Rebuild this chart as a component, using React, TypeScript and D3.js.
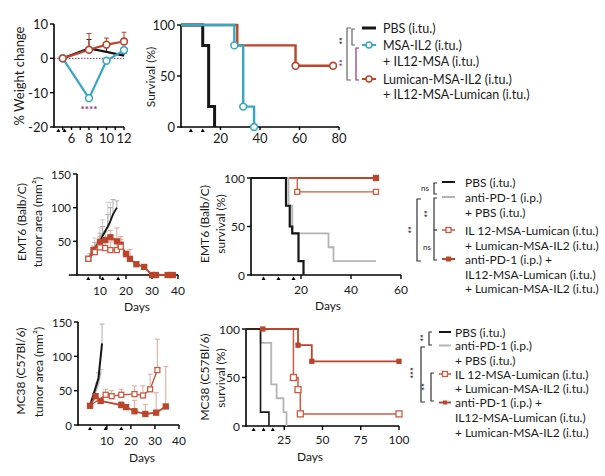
import React from "react";
import * as d3 from "d3";

const FONT = "Lato, 'Open Sans', sans-serif";

// colours
const C_BLACK = "#161616";
const C_CYAN = "#37a8c2";
const C_RED = "#bb442b";
const C_RED2 = "#cc5940";
const C_RED_ERR = "#e4a696";
const C_GREY = "#b4b4b4";
const C_GREY_ERR = "#aeaeae";
const C_PURPLE = "#8c2f7c";

// ---------- Panel A: % weight change
const weightDays = [5, 8, 10, 12];
const weightPBS = [0, 2.9, 1.9, 0.8];
const weightPBSErr = [0, 2.6, 1.2, 0.6];
const weightMSA = [0, -11.6, -0.7, 2.4];
const weightMSAErr = [0, 0.6, 0.6, 0.6];
const weightLum = [0, 2.5, 4.0, 4.9];
const weightLumErr = [0, 4.7, 1.9, 2.7];
const weightYTicks = [-20, -10, 0, 10];
const weightXTicks = [6, 8, 10, 12];
const weightTreat = [4.5, 5.2];

// ---------- Panel B: survival (top)
const survYTicks = [0, 50, 100];
const survTopXTicks = [20, 40, 60, 80];
const survTopPBS_t = [0, 11, 14, 17];
const survTopPBS_s = [100, 80, 20, 0];
const survTopMSA_t = [0, 27, 31.5, 37];
const survTopMSA_s = [100, 80, 20, 0];
const survTopLum_t = [0, 28.5, 58, 77];
const survTopLum_s = [100, 80, 60, 60];
const survTopTreat = [5, 11];

// ---------- Panel C: EMT6 tumour area
const growthYTicks = [50, 100, 150];
const growthXTicks = [10, 20, 30, 40];
const emtPBS_d = [6.5, 8, 10, 11, 13, 14, 15, 16.5];
const emtPBS_v = [28, 40, 50, 58, 72, 80, 90, 100];
const emtPBS_e = [4, 8, 12, 14, 18, 20, 22, 10];
const emtPD1_d = [6, 8, 10, 11, 13, 14];
const emtPD1_v = [27, 43, 55, 62, 70, 78];
const emtPD1_e = [5, 12, 15, 20, 38, 30];
const emtIL12_d = [5.5, 8, 10, 12, 14, 16.5, 18];
const emtIL12_v = [24, 34, 41, 40, 37, 37, 42];
const emtIL12_e = [3, 8, 12, 14, 12, 14, 15];
const emtCombo_d = [5.5, 7.5, 10, 12, 14, 16.5, 18, 20, 21.5, 24, 27, 30, 31.5, 36, 38];
const emtCombo_v = [24, 37, 49, 52, 56, 50, 45, 31, 24, 16, 12, 0, 0, 0, 0];
const emtCombo_e = [3, 6, 8, 12, 10, 20, 8, 5, 14, 3, 2, 0, 0, 0, 0];
const emtTreat = [5.5, 11, 17];

// ---------- Panel D: EMT6 survival
const survMidXTicks = [20, 40, 60];
const survMidPBS_t = [0, 14, 15.5, 16.5, 19, 21];
const survMidPBS_s = [100, 71.4, 50, 42.9, 14.3, 0];
const survMidPD1_t = [0, 15, 16.5, 31, 33, 50];
const survMidPD1_s = [100, 71.4, 42.9, 28.6, 14.3, 14.3];
const survMidIL12_t = [0, 18.5, 50];
const survMidIL12_s = [100, 85.7, 85.7];
const survMidCombo_t = [0, 50];
const survMidCombo_s = [100, 100];
const survMidTreat = [5, 11, 17];

// ---------- Panel E: MC38 tumour area
const mcYTicks = [0, 50, 100, 150];
const mcPBS_d = [3, 6.5, 8];
const mcPBS_v = [28, 68, 119];
const mcPBS_e = [0, 8, 28];
const mcPD1_d = [3, 6, 7.5];
const mcPD1_v = [28, 55, 77];
const mcPD1_e = [0, 6, 4];
const mcIL12_d = [3, 9.5, 12, 16, 21.5, 25, 28, 31];
const mcIL12_v = [28, 44, 42, 44, 45, 43, 52, 80];
const mcIL12_e = [0, 8, 8, 8, 12, 14, 22, 45];
const mcCombo_d = [3, 5.3, 7.4, 16, 18, 21.5, 26, 30.5, 34.5];
const mcCombo_v = [28, 42, 35, 29, 26, 20, 16, 18, 27];
const mcCombo_e = [0, 3, 3, 5, 3, 16, 14, 29, 58];
const mcTreat = [3, 9.5, 16];

// ---------- Panel F: MC38 survival
const survBotXTicks = [25, 50, 75, 100];
const survBotPBS_t = [0, 9.5, 15];
const survBotPBS_s = [100, 14.3, 0];
const survBotPD1_t = [0, 9.5, 16.5, 20, 24.5, 26.5];
const survBotPD1_s = [100, 85.7, 42.9, 28.6, 14.3, 0];
const survBotIL12_t = [0, 31, 34, 35.5, 100];
const survBotIL12_s = [100, 50, 37.5, 12.5, 12.5];
const survBotCombo_t = [0, 34, 43, 100];
const survBotCombo_s = [100, 83.3, 66.7, 66.7];
const survBotComboMarks = [11, 34, 43, 100];
const survBotTreat = [5, 11.5, 17.5];

// ---------- legends
const legendTop = ["PBS (i.tu.)", "MSA-IL2 (i.tu.)", "+ IL12-MSA (i.tu.)", "Lumican-MSA-IL2 (i.tu.)", "+ IL12-MSA-Lumican (i.tu.)"];
const legendMid = [
  "PBS (i.tu.)",
  "anti-PD-1 (i.p.)",
  "+ PBS (i.tu.)",
  "IL 12-MSA-Lumican (i.tu.)",
  "+ Lumican-MSA-IL2 (i.tu.)",
  "anti-PD-1 (i.p.) +",
  "IL12-MSA-Lumican (i.tu.)",
  "+ Lumican-MSA-IL2 (i.tu.)",
];

type Scale = d3.ScaleLinear<number, number>;

function YAxis({ x, y, ticks, fs, len = 4 }: { x: number; y: Scale; ticks: number[]; fs: number; len?: number }) {
  const [r0, r1] = y.range();
  return (
    <g>
      <line x1={x} x2={x} y1={r0 + 0.8} y2={r1} stroke="#000" strokeWidth={1.6} />
      {ticks.map((t) => (
        <g key={t}>
          <line x1={x - len} x2={x} y1={y(t)} y2={y(t)} stroke="#000" strokeWidth={1.4} />
          <text x={x - len - 2} y={y(t)} textAnchor="end" dominantBaseline="central" fontSize={fs}>
            {t}
          </text>
        </g>
      ))}
    </g>
  );
}

function XAxis({ y, x, ticks, fs, base, len = 4, minor = [] as number[] }: { y: number; x: Scale; ticks: number[]; fs: number; base: number; len?: number; minor?: number[] }) {
  const [r0, r1] = x.range();
  return (
    <g>
      <line x1={r0} x2={r1} y1={y} y2={y} stroke="#000" strokeWidth={1.6} />
      {minor.map((t, i) => (
        <line key={"m" + i} x1={x(t)} x2={x(t)} y1={y} y2={y + len} stroke="#000" strokeWidth={1.4} />
      ))}
      {ticks.map((t) => (
        <g key={t}>
          <line x1={x(t)} x2={x(t)} y1={y} y2={y + len} stroke="#000" strokeWidth={1.4} />
          <text x={x(t)} y={base} textAnchor="middle" fontSize={fs}>
            {t}
          </text>
        </g>
      ))}
    </g>
  );
}

function Treat({ x, days, y }: { x: Scale; days: number[]; y: number }) {
  return (
    <g>
      {days.map((d, i) => (
        <path key={i} d={`M${x(d) - 2},${y + 5} L${x(d) + 2},${y + 5} L${x(d)},${y + 1.5} Z`} fill="#000" />
      ))}
    </g>
  );
}

function stepPath(x: Scale, y: Scale, t: number[], s: number[]) {
  const pts: [number, number][] = t.map((tt, i) => [tt, s[i]]);
  return d3
    .line<[number, number]>()
    .x((d) => x(d[0]))
    .y((d) => y(d[1]))
    .curve(d3.curveStepAfter)(pts) as string;
}

function linePath(x: Scale, y: Scale, t: number[], v: number[]) {
  const pts: [number, number][] = t.map((tt, i) => [tt, v[i]]);
  return d3
    .line<[number, number]>()
    .x((d) => x(d[0]))
    .y((d) => y(d[1]))(pts) as string;
}

function ErrUp({ x, y, t, v, e, color, w = 1, cap = 2.5 }: { x: Scale; y: Scale; t: number[]; v: number[]; e: number[]; color: string; w?: number; cap?: number }) {
  return (
    <g stroke={color} strokeWidth={w}>
      {t.map((tt, i) =>
        e[i] > 0 ? (
          <g key={i}>
            <line x1={x(tt)} x2={x(tt)} y1={y(v[i])} y2={y(v[i] + e[i])} />
            <line x1={x(tt) - cap} x2={x(tt) + cap} y1={y(v[i] + e[i])} y2={y(v[i] + e[i])} />
          </g>
        ) : null
      )}
    </g>
  );
}

function Squares({ x, y, t, v, color, open, size = 5, sw = 1.3 }: { x: Scale; y: Scale; t: number[]; v: number[]; color: string; open: boolean; size?: number; sw?: number }) {
  return (
    <g>
      {t.map((tt, i) => (
        <rect
          key={i}
          x={x(tt) - size / 2}
          y={y(v[i]) - size / 2}
          width={size}
          height={size}
          fill={open ? "#fff" : color}
          stroke={color}
          strokeWidth={sw}
        />
      ))}
    </g>
  );
}

function Circles({ x, y, t, v, color, r = 3.4 }: { x: Scale; y: Scale; t: number[]; v: number[]; color: string; r?: number }) {
  return (
    <g>
      {t.map((tt, i) => (
        <circle key={i} cx={x(tt)} cy={y(v[i])} r={r} fill="#fff" stroke={color} strokeWidth={1.6} />
      ))}
    </g>
  );
}

function VLabel({ cx, cy, text, fs }: { cx: number; cy: number; text: string; fs: number }) {
  return (
    <text transform={`translate(${cx},${cy}) rotate(-90)`} textAnchor="middle" dominantBaseline="central" fontSize={fs}>
      {text}
    </text>
  );
}

function Stars({ x, y, n, color = "#333" }: { x: number; y: number; n: number; color?: string }) {
  return (
    <text transform={`translate(${x},${y}) rotate(-90)`} textAnchor="middle" dominantBaseline="central" fontSize={9} fill={color} fontWeight="bold">
      {"*".repeat(n)}
    </text>
  );
}

function Bracket({ x, y1, y2, mids = [] as number[], color = "#333", tick = 4 }: { x: number; y1: number; y2: number; mids?: number[]; color?: string; tick?: number }) {
  return (
    <g stroke={color} strokeWidth={1.2} fill="none">
      <path d={`M${x + tick},${y1} H${x} V${y2} H${x + tick}`} />
      {mids.map((m, i) => (
        <line key={i} x1={x} x2={x + tick} y1={m} y2={m} />
      ))}
    </g>
  );
}

export default function App() {
  // Panel A
  const xA = d3.scaleLinear().domain([4, 12]).range([54, 124]);
  const yA = d3.scaleLinear().domain([-20, 10]).range([127, 24]);
  // Panel B
  const xB = d3.scaleLinear().domain([0, 80]).range([181, 339]);
  const yB = d3.scaleLinear().domain([0, 100]).range([127, 25]);
  // Panel C
  const xC = d3.scaleLinear().domain([-2, 40]).range([68.8, 178]);
  const yC = d3.scaleLinear().domain([0, 150]).range([275, 174]);
  // Panel D
  const xD = d3.scaleLinear().domain([0, 60]).range([251, 401]);
  const yD = d3.scaleLinear().domain([0, 100]).range([275, 178]);
  // Panel E
  const xE = d3.scaleLinear().domain([-2, 40]).range([78, 179]);
  const yE = d3.scaleLinear().domain([0, 150]).range([425, 322]);
  // Panel F
  const xF = d3.scaleLinear().domain([0, 100]).range([246, 399]);
  const yF = d3.scaleLinear().domain([0, 100]).range([426, 329]);

  const topRows = [28, 45, 61, 79, 94];
  const midRows = [182, 197, 212, 230, 245, 259, 274, 288];
  const botRows = [332, 345.5, 360, 374, 388, 402.5, 417, 432];
  const TFS = 12.5;
  const LFS = 12;

  return (
    <svg width={605} height={476} style={{ position: "absolute", left: 0, top: 0, background: "#fff" }} fontFamily={FONT} fill="#1a1a1a">
      <rect x={0} y={0} width={605} height={476} fill="#fff" />

      {/* ---------------- Panel A ---------------- */}
      <VLabel cx={19} cy={76} text="% Weight change" fs={13} />
      <line x1={xA(4)} x2={xA(12)} y1={yA(0)} y2={yA(0)} stroke={C_PURPLE} strokeWidth={1} strokeDasharray="1.5,1.5" />
      <YAxis x={54} y={yA} ticks={weightYTicks} fs={13} />
      <XAxis y={127} x={xA} ticks={weightXTicks} fs={13} base={143} minor={[5, 7, 9, 11]} len={3} />
      <Treat x={xA} days={weightTreat} y={127} />
      <ErrUp x={xA} y={yA} t={weightDays} v={weightPBS} e={weightPBSErr} color={C_BLACK} />
      <ErrUp x={xA} y={yA} t={weightDays} v={weightLum} e={weightLumErr} color={C_RED} />
      <ErrUp x={xA} y={yA} t={weightDays} v={weightMSA} e={weightMSAErr} color={C_CYAN} />
      <path d={linePath(xA, yA, weightDays, weightPBS)} fill="none" stroke={C_BLACK} strokeWidth={2.2} />
      <path d={linePath(xA, yA, weightDays, weightMSA)} fill="none" stroke={C_CYAN} strokeWidth={2.2} />
      <path d={linePath(xA, yA, weightDays, weightLum)} fill="none" stroke={C_RED} strokeWidth={2.2} />
      <Circles x={xA} y={yA} t={weightDays} v={weightMSA} color={C_CYAN} />
      <Circles x={xA} y={yA} t={weightDays} v={weightLum} color={C_RED} />
      <text x={xA(8)} y={113} textAnchor="middle" fontSize={10} fill={C_PURPLE} fontWeight="bold">
        ****
      </text>

      {/* ---------------- Panel B ---------------- */}
      <VLabel cx={150} cy={77} text="Survival (%)" fs={12} />
      <YAxis x={181} y={yB} ticks={survYTicks} fs={13} />
      <XAxis y={127} x={xB} ticks={survTopXTicks} fs={13} base={143} len={3} />
      <Treat x={xB} days={survTopTreat} y={127} />
      <path d={stepPath(xB, yB, survTopPBS_t, survTopPBS_s)} fill="none" stroke={C_BLACK} strokeWidth={3} />
      <path d={stepPath(xB, yB, survTopLum_t, survTopLum_s)} fill="none" stroke={C_RED} strokeWidth={2.4} />
      <path d={stepPath(xB, yB, survTopMSA_t, survTopMSA_s)} fill="none" stroke={C_CYAN} strokeWidth={2.4} />
      <Circles x={xB} y={yB} t={survTopLum_t.slice(2)} v={survTopLum_s.slice(2)} color={C_RED} />
      <Circles x={xB} y={yB} t={survTopMSA_t.slice(1)} v={survTopMSA_s.slice(1)} color={C_CYAN} />

      {/* top legend */}
      <Bracket x={347} y1={28} y2={80} color="#666" />
      <Bracket x={352} y1={29} y2={45} color="#666" tick={3} />
      <Bracket x={356} y1={48} y2={80} color={C_PURPLE} tick={3} />
      <Stars x={342} y={41} n={2} />
      <Stars x={342} y={63} n={2} color={C_PURPLE} />
      <line x1={362} x2={376} y1={topRows[0]} y2={topRows[0]} stroke={C_BLACK} strokeWidth={3} />
      <line x1={362} x2={376} y1={topRows[1]} y2={topRows[1]} stroke={C_CYAN} strokeWidth={2} />
      <circle cx={369} cy={topRows[1]} r={3} fill="#fff" stroke={C_CYAN} strokeWidth={1.5} />
      <line x1={362} x2={376} y1={topRows[3]} y2={topRows[3]} stroke={C_RED} strokeWidth={2} />
      <circle cx={369} cy={topRows[3]} r={3} fill="#fff" stroke={C_RED} strokeWidth={1.5} />
      {legendTop.map((t, i) => (
        <text key={i} x={383} y={topRows[i]} dominantBaseline="central" fontSize={TFS}>
          {t}
        </text>
      ))}

      {/* ---------------- Panel C ---------------- */}
      <VLabel cx={21} cy={222} text="EMT6 (Balb/C)" fs={12} />
      <VLabel cx={37} cy={222} text="tumor area (mm²)" fs={12} />
      <YAxis x={77} y={yC} ticks={growthYTicks} fs={11.5} />
      <XAxis y={275} x={xC} ticks={growthXTicks} fs={12} base={295} />
      <Treat x={xC} days={emtTreat} y={275} />
      <text x={137} y={311} textAnchor="middle" fontSize={12}>
        Days
      </text>
      <ErrUp x={xC} y={yC} t={emtPD1_d} v={emtPD1_v} e={emtPD1_e} color="#cfcfcf" />
      <ErrUp x={xC} y={yC} t={emtPBS_d} v={emtPBS_v} e={emtPBS_e} color={C_GREY_ERR} />
      <ErrUp x={xC} y={yC} t={emtIL12_d} v={emtIL12_v} e={emtIL12_e} color={C_RED_ERR} />
      <ErrUp x={xC} y={yC} t={emtCombo_d} v={emtCombo_v} e={emtCombo_e} color={C_RED_ERR} />
      <path d={linePath(xC, yC, emtPD1_d, emtPD1_v)} fill="none" stroke={C_GREY} strokeWidth={1.6} />
      <path d={linePath(xC, yC, emtPBS_d, emtPBS_v)} fill="none" stroke={C_BLACK} strokeWidth={1.8} />
      <path d={linePath(xC, yC, emtCombo_d, emtCombo_v)} fill="none" stroke={C_RED} strokeWidth={1.8} />
      <path d={linePath(xC, yC, emtIL12_d, emtIL12_v)} fill="none" stroke={C_RED2} strokeWidth={1.5} />
      <Squares x={xC} y={yC} t={emtCombo_d} v={emtCombo_v} color={C_RED} open={false} />
      <Squares x={xC} y={yC} t={emtIL12_d} v={emtIL12_v} color={C_RED2} open={true} />

      {/* ---------------- Panel D ---------------- */}
      <VLabel cx={204} cy={224} text="EMT6 (Balb/C)" fs={12} />
      <VLabel cx={220} cy={224} text="survival (%)" fs={12} />
      <YAxis x={251} y={yD} ticks={survYTicks} fs={12} />
      <XAxis y={275} x={xD} ticks={survMidXTicks} fs={12} base={294} />
      <Treat x={xD} days={survMidTreat} y={275} />
      <text x={328} y={310} textAnchor="middle" fontSize={12}>
        Days
      </text>
      <path d={stepPath(xD, yD, survMidCombo_t, survMidCombo_s)} fill="none" stroke={C_RED} strokeWidth={1.8} />
      <path d={stepPath(xD, yD, survMidIL12_t, survMidIL12_s)} fill="none" stroke={C_RED2} strokeWidth={1.3} />
      <path d={stepPath(xD, yD, survMidPD1_t, survMidPD1_s)} fill="none" stroke={C_GREY} strokeWidth={1.8} />
      <path d={stepPath(xD, yD, survMidPBS_t, survMidPBS_s)} fill="none" stroke={C_BLACK} strokeWidth={2.2} />
      <Squares x={xD} y={yD} t={survMidIL12_t.slice(1)} v={survMidIL12_s.slice(1)} color={C_RED2} open={true} size={5} />
      <Squares x={xD} y={yD} t={survMidCombo_t.slice(1)} v={survMidCombo_s.slice(1)} color={C_RED} open={false} size={5} />

      {/* middle legend */}
      <Bracket x={434} y1={183} y2={194} tick={3} />
      <text x={425} y={188} textAnchor="middle" dominantBaseline="central" fontSize={8}>
        ns
      </text>
      <Bracket x={434} y1={198} y2={260} mids={[230]} tick={3} />
      <Stars x={427} y={214} n={2} />
      <text x={427} y={247} textAnchor="middle" dominantBaseline="central" fontSize={8}>
        ns
      </text>
      <Bracket x={417} y1={199} y2={261} tick={4} />
      <Stars x={411} y={230} n={2} />
      <line x1={442} x2={455} y1={midRows[0]} y2={midRows[0]} stroke={C_BLACK} strokeWidth={2} />
      <line x1={442} x2={455} y1={midRows[1]} y2={midRows[1]} stroke={C_GREY} strokeWidth={2} />
      <line x1={442} x2={455} y1={midRows[3]} y2={midRows[3]} stroke={C_RED2} strokeWidth={1.5} />
      <rect x={446} y={midRows[3] - 2.5} width={5} height={5} fill="#fff" stroke={C_RED2} strokeWidth={1.3} />
      <line x1={442} x2={455} y1={midRows[5]} y2={midRows[5]} stroke={C_RED} strokeWidth={2} />
      <rect x={446} y={midRows[5] - 2.5} width={5} height={5} fill={C_RED} />
      {legendMid.map((t, i) => (
        <text key={i} x={465} y={midRows[i]} dominantBaseline="central" fontSize={LFS}>
          {t}
        </text>
      ))}

      {/* ---------------- Panel E ---------------- */}
      <VLabel cx={20} cy={371} text="MC38 (C57Bl/6)" fs={12} />
      <VLabel cx={38} cy={372} text="tumor area (mm²)" fs={12} />
      <YAxis x={78} y={yE} ticks={mcYTicks} fs={11.5} />
      <XAxis y={425} x={xE} ticks={growthXTicks} fs={12} base={445} />
      <Treat x={xE} days={mcTreat} y={425} />
      <text x={142} y={462} textAnchor="middle" fontSize={12}>
        Days
      </text>
      <ErrUp x={xE} y={yE} t={mcPBS_d} v={mcPBS_v} e={mcPBS_e} color={C_GREY_ERR} />
      <ErrUp x={xE} y={yE} t={mcPD1_d} v={mcPD1_v} e={mcPD1_e} color="#cfcfcf" />
      <ErrUp x={xE} y={yE} t={mcIL12_d} v={mcIL12_v} e={mcIL12_e} color={C_RED_ERR} />
      <ErrUp x={xE} y={yE} t={mcCombo_d} v={mcCombo_v} e={mcCombo_e} color={C_RED_ERR} />
      <path d={linePath(xE, yE, mcPD1_d, mcPD1_v)} fill="none" stroke={C_GREY} strokeWidth={1.8} />
      <path d={linePath(xE, yE, mcPBS_d, mcPBS_v)} fill="none" stroke={C_BLACK} strokeWidth={2} />
      <path d={linePath(xE, yE, mcCombo_d, mcCombo_v)} fill="none" stroke={C_RED} strokeWidth={1.8} />
      <path d={linePath(xE, yE, mcIL12_d, mcIL12_v)} fill="none" stroke={C_RED2} strokeWidth={1.4} />
      <Squares x={xE} y={yE} t={mcCombo_d} v={mcCombo_v} color={C_RED} open={false} />
      <Squares x={xE} y={yE} t={mcIL12_d.slice(1)} v={mcIL12_v.slice(1)} color={C_RED2} open={true} />

      {/* ---------------- Panel F ---------------- */}
      <VLabel cx={204} cy={377} text="MC38 (C57Bl/6)" fs={12} />
      <VLabel cx={220} cy={378} text="survival (%)" fs={12} />
      <YAxis x={246} y={yF} ticks={survYTicks} fs={12} />
      <XAxis y={426} x={xF} ticks={survBotXTicks} fs={12} base={444} />
      <Treat x={xF} days={survBotTreat} y={426} />
      <text x={310} y={461} textAnchor="middle" fontSize={12}>
        Days
      </text>
      <path d={stepPath(xF, yF, survBotPD1_t, survBotPD1_s)} fill="none" stroke={C_GREY} strokeWidth={1.8} />
      <path d={stepPath(xF, yF, survBotIL12_t, survBotIL12_s)} fill="none" stroke={C_RED2} strokeWidth={1.5} />
      <path d={stepPath(xF, yF, survBotCombo_t, survBotCombo_s)} fill="none" stroke={C_RED} strokeWidth={1.8} />
      <path d={stepPath(xF, yF, survBotPBS_t, survBotPBS_s)} fill="none" stroke={C_BLACK} strokeWidth={1.6} />
      <Squares x={xF} y={yF} t={survBotIL12_t.slice(1)} v={survBotIL12_s.slice(1)} color={C_RED2} open={true} size={6} />
      <Squares
        x={xF}
        y={yF}
        t={survBotComboMarks}
        v={survBotComboMarks.map((d) => (d < 34 ? 100 : d < 43 ? 83.3 : 66.7))}
        color={C_RED}
        open={false}
        size={4}
      />

      {/* bottom legend */}
      <Bracket x={429} y1={332} y2={345} tick={3} />
      <Stars x={423} y={338} n={2} />
      <Bracket x={421} y1={347} y2={402} tick={4} />
      <Stars x={413} y={373} n={3} />
      <Bracket x={431} y1={373} y2={401} tick={3} />
      <Stars x={424} y={387} n={2} />
      <line x1={439} x2={451} y1={botRows[0]} y2={botRows[0]} stroke={C_BLACK} strokeWidth={2} />
      <line x1={439} x2={451} y1={botRows[1]} y2={botRows[1]} stroke={C_GREY} strokeWidth={2} />
      <line x1={439} x2={451} y1={botRows[3]} y2={botRows[3]} stroke={C_RED2} strokeWidth={1.5} />
      <rect x={442.5} y={botRows[3] - 2.5} width={5} height={5} fill="#fff" stroke={C_RED2} strokeWidth={1.3} />
      <line x1={439} x2={451} y1={botRows[5]} y2={botRows[5]} stroke={C_RED} strokeWidth={2} />
      <rect x={443} y={botRows[5] - 2} width={4} height={4} fill={C_RED} />
      {legendMid.map((t, i) => (
        <text key={i} x={455} y={botRows[i]} dominantBaseline="central" fontSize={LFS}>
          {t}
        </text>
      ))}
    </svg>
  );
}
